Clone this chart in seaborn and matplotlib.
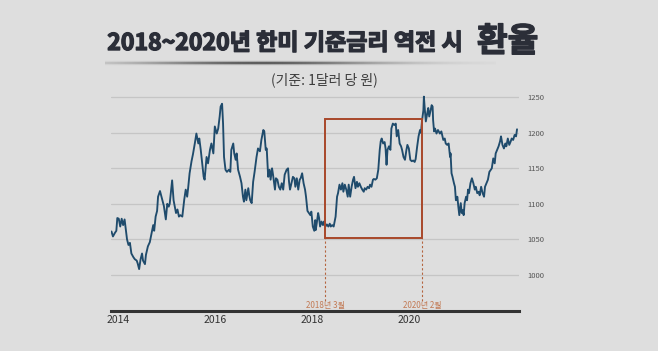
import numpy as np
import pandas as pd
import matplotlib.pyplot as plt
import seaborn as sns
from matplotlib.patches import Rectangle
import matplotlib.patheffects as pe

# 원/달러 환율 (그림에서 읽은 값, 연도는 소수 표기)
years = [
    2013.87, 2013.90, 2013.94, 2013.97, 2013.99, 2014.02, 2014.05, 2014.08, 2014.11, 2014.14,
    2014.19, 2014.22, 2014.25, 2014.28, 2014.32, 2014.35, 2014.39, 2014.41, 2014.44, 2014.47,
    2014.50, 2014.52, 2014.56, 2014.58, 2014.62, 2014.66, 2014.70, 2014.73, 2014.75, 2014.78,
    2014.81, 2014.83, 2014.87, 2014.90, 2014.93, 2014.95, 2014.99, 2015.02, 2015.05, 2015.07,
    2015.12, 2015.15, 2015.20, 2015.23, 2015.26, 2015.29, 2015.33, 2015.37, 2015.40, 2015.43,
    2015.45, 2015.48, 2015.52, 2015.55, 2015.59, 2015.62, 2015.66, 2015.68, 2015.71, 2015.75,
    2015.77, 2015.79, 2015.83, 2015.86, 2015.90, 2015.93, 2015.97, 2016.00, 2016.04, 2016.07,
    2016.10, 2016.12, 2016.15, 2016.17, 2016.19, 2016.22, 2016.25, 2016.29, 2016.32, 2016.34,
    2016.38, 2016.40, 2016.43, 2016.45, 2016.48, 2016.52, 2016.55, 2016.58, 2016.60, 2016.63,
    2016.65, 2016.69, 2016.71, 2016.73, 2016.76, 2016.79, 2016.82, 2016.86, 2016.89, 2016.93,
    2016.96, 2017.00, 2017.02, 2017.05, 2017.07, 2017.10, 2017.13, 2017.15, 2017.18, 2017.20,
    2017.24, 2017.26, 2017.29, 2017.32, 2017.35, 2017.38, 2017.41, 2017.44, 2017.48, 2017.51,
    2017.53, 2017.55, 2017.58, 2017.61, 2017.64, 2017.66, 2017.69, 2017.72, 2017.75, 2017.77,
    2017.80, 2017.83, 2017.86, 2017.88, 2017.91, 2017.94, 2017.97, 2017.99, 2018.02, 2018.05,
    2018.07, 2018.08, 2018.10, 2018.13, 2018.15, 2018.17, 2018.20, 2018.23, 2018.25, 2018.28,
    2018.31, 2018.34, 2018.37, 2018.39, 2018.42, 2018.45, 2018.47, 2018.49, 2018.52, 2018.54,
    2018.57, 2018.60, 2018.63, 2018.65, 2018.68, 2018.71, 2018.74, 2018.76, 2018.79, 2018.82,
    2018.85, 2018.87, 2018.90, 2018.93, 2018.95, 2018.98, 2019.01, 2019.04, 2019.07, 2019.09,
    2019.12, 2019.15, 2019.18, 2019.20, 2019.23, 2019.26, 2019.28, 2019.31, 2019.34, 2019.37,
    2019.40, 2019.42, 2019.44, 2019.47, 2019.50, 2019.52, 2019.54, 2019.56, 2019.59, 2019.62,
    2019.64, 2019.67, 2019.70, 2019.73, 2019.75, 2019.78, 2019.81, 2019.84, 2019.86, 2019.89,
    2019.92, 2019.95, 2019.97, 2020.00, 2020.03, 2020.06, 2020.09, 2020.12, 2020.14, 2020.17,
    2020.20, 2020.23, 2020.25, 2020.27, 2020.30, 2020.31, 2020.33, 2020.35, 2020.38, 2020.40,
    2020.42, 2020.45, 2020.47, 2020.49, 2020.50, 2020.52, 2020.54, 2020.57, 2020.60, 2020.64,
    2020.67, 2020.71, 2020.74, 2020.76, 2020.79, 2020.82, 2020.85, 2020.86, 2020.88, 2020.90,
    2020.93, 2020.95, 2020.97, 2021.00, 2021.02, 2021.04, 2021.07, 2021.09, 2021.11, 2021.13,
    2021.15, 2021.18, 2021.20, 2021.22, 2021.24, 2021.27, 2021.30, 2021.33, 2021.36, 2021.38,
    2021.41, 2021.44, 2021.46, 2021.49, 2021.52, 2021.55, 2021.57, 2021.60, 2021.63, 2021.66,
    2021.69, 2021.71, 2021.74, 2021.77, 2021.79, 2021.82, 2021.85, 2021.88, 2021.90, 2021.93,
    2021.96, 2021.99, 2022.01, 2022.04, 2022.07, 2022.10, 2022.12, 2022.15, 2022.18, 2022.21,
    2022.23,
]
krw = [
    1061, 1054, 1059, 1062, 1080, 1079, 1068, 1079, 1070, 1078,
    1050, 1042, 1045, 1030, 1025, 1022, 1020, 1016, 1008, 1022,
    1030, 1020, 1015, 1028, 1040, 1046, 1060, 1070, 1062, 1082,
    1090, 1110, 1118, 1110, 1102, 1097, 1078, 1100, 1096, 1100,
    1133, 1105, 1087, 1092, 1082, 1084, 1082, 1106, 1120, 1110,
    1122, 1143, 1160, 1170, 1186, 1199, 1185, 1192, 1176, 1150,
    1138, 1134, 1166, 1157, 1176, 1185, 1171, 1209, 1199, 1206,
    1223, 1237, 1241, 1213, 1166, 1148, 1145, 1148, 1145, 1176,
    1185, 1171, 1162, 1171, 1148, 1138, 1129, 1110, 1103, 1120,
    1105, 1122, 1112, 1105, 1101, 1131, 1145, 1166, 1178, 1174,
    1190, 1204, 1202, 1176, 1178, 1138, 1148, 1134, 1150, 1141,
    1120, 1136, 1134, 1124, 1120, 1129, 1120, 1141, 1148, 1150,
    1131, 1120, 1129, 1138, 1136, 1124, 1136, 1120, 1134, 1136,
    1143, 1129, 1120, 1110, 1090, 1087, 1084, 1089, 1068, 1062,
    1077, 1063, 1072, 1087, 1080, 1068, 1075, 1070, 1075, 1068,
    1071, 1068, 1072, 1068, 1070, 1068, 1075, 1082, 1110, 1115,
    1127, 1120, 1129, 1117, 1127, 1120, 1110, 1127, 1110, 1124,
    1134, 1138, 1122, 1131, 1124, 1129, 1124, 1120, 1117, 1122,
    1120, 1124, 1122, 1127, 1124, 1134, 1135, 1134, 1136, 1148,
    1176, 1188, 1192, 1185, 1187, 1178, 1155, 1176, 1181, 1176,
    1206, 1213, 1211, 1213, 1195, 1204, 1185, 1181, 1176, 1166,
    1162, 1176, 1183, 1178, 1162, 1160, 1161, 1159, 1163, 1180,
    1195, 1204, 1200, 1216, 1232, 1251, 1232, 1216, 1228, 1235,
    1223, 1232, 1239, 1237, 1218, 1202, 1206, 1199, 1204, 1199,
    1202, 1190, 1192, 1185, 1183, 1185, 1166, 1171, 1143, 1138,
    1129, 1124, 1105, 1110, 1096, 1084, 1101, 1087, 1091, 1084,
    1101, 1110, 1105, 1120, 1115, 1129, 1136, 1129, 1120, 1124,
    1115, 1117, 1112, 1124, 1115, 1110, 1124, 1129, 1134, 1145,
    1148, 1150, 1164, 1157, 1171, 1176, 1181, 1188, 1195, 1183,
    1178, 1185, 1181, 1192, 1183, 1188, 1192, 1190, 1197, 1195,
    1205,
]

x_ticks = [2014, 2016, 2018, 2020]
x_tick_labels = ['2014', '2016', '2018', '2020']
y_ticks = [1000, 1050, 1100, 1150, 1200, 1250]

# 금리 역전 구간
inv_start, inv_end = 2018.28, 2020.27
inv_low, inv_high = 1052, 1219
inv_labels = ['2018년 3월', '2020년 2월']

bg = '#dedede'
title_color = '#2b2e38'
sns.set_style('white')
plt.rcParams['font.family'] = ['Noto Sans CJK KR', 'DejaVu Sans']

fig = plt.figure(figsize=(6.58, 3.51), dpi=100, facecolor=bg)
ax = fig.add_axes([0.1687, 0.114, 0.620, 0.639])
ax.set_facecolor(bg)

df = pd.DataFrame({'year': years, 'krw': krw})
sns.lineplot(data=df, x='year', y='krw', ax=ax, color='#1f4b6c', lw=1.35, estimator=None)

ax.set_xlim(2013.86, 2022.27)
ax.set_ylim(949, 1265)
ax.set_xticks(x_ticks)
ax.set_xticklabels(x_tick_labels)
ax.set_yticks(y_ticks)
ax.yaxis.tick_right()
ax.grid(axis='y', color='#c5c5c5', lw=0.9)
ax.set_axisbelow(True)
for s in ['top', 'left', 'right']:
    ax.spines[s].set_visible(False)
ax.spines['bottom'].set_color('#333333')
ax.spines['bottom'].set_linewidth(2.2)
ax.tick_params(axis='y', length=0, pad=6, labelsize=5.5, labelcolor='#555555')
ax.tick_params(axis='x', length=0, pad=3, labelsize=7.5, labelcolor='#333333')
ax.set_xlabel('')
ax.set_ylabel('')

# 역전 구간 박스 + 점선
ax.add_patch(Rectangle((inv_start, inv_low), inv_end - inv_start, inv_high - inv_low,
                       fill=False, ec='#a8472a', lw=1.4, zorder=3))
for xv, lab in zip([inv_start, inv_end], inv_labels):
    ax.plot([xv, xv], [963, inv_low], color='#b4643e', lw=0.8, ls=(0, (2, 2)))
    ax.text(xv, 951, lab, ha='center', va='bottom', fontsize=5.8, color='#c27a55')

# 제목 (굵게 보이도록 외곽선 추가)
bold = [pe.withStroke(linewidth=1.0, foreground=title_color)]
fig.text(463 / 658, 1 - 43.5 / 351, '2018~2020년 한미 기준금리 역전 시', ha='right', va='center',
         fontsize=16.6, fontweight='heavy', color=title_color, path_effects=bold)
fig.text(477 / 658, 1 - 42 / 351, '환율', ha='left', va='center',
         fontsize=24, fontweight='heavy', color=title_color, path_effects=bold)

# 제목 밑 그림자 선 (부드러운 그라데이션)
sh = fig.add_axes([105 / 658, 1 - 66 / 351, 390 / 658, 6 / 351])
sh.axis('off')
gx = np.linspace(0, 1, 400)
gy = np.linspace(-1, 1, 12)
prof = np.exp(-((gx - 0.40) / 0.32) ** 2)[None, :] * np.exp(-(gy / 0.5) ** 2)[:, None]
img = np.zeros((len(gy), len(gx), 4))
img[..., :3] = 0.2
img[..., 3] = 0.9 * prof
sh.imshow(img, aspect='auto', extent=(0, 1, 0, 1))

fig.text(324 / 658, 1 - 80 / 351, '(기준: 1달러 당 원)', ha='center', va='center',
         fontsize=10, color='#3c3c3c')

plt.savefig('out.png', dpi=100, facecolor=bg)
